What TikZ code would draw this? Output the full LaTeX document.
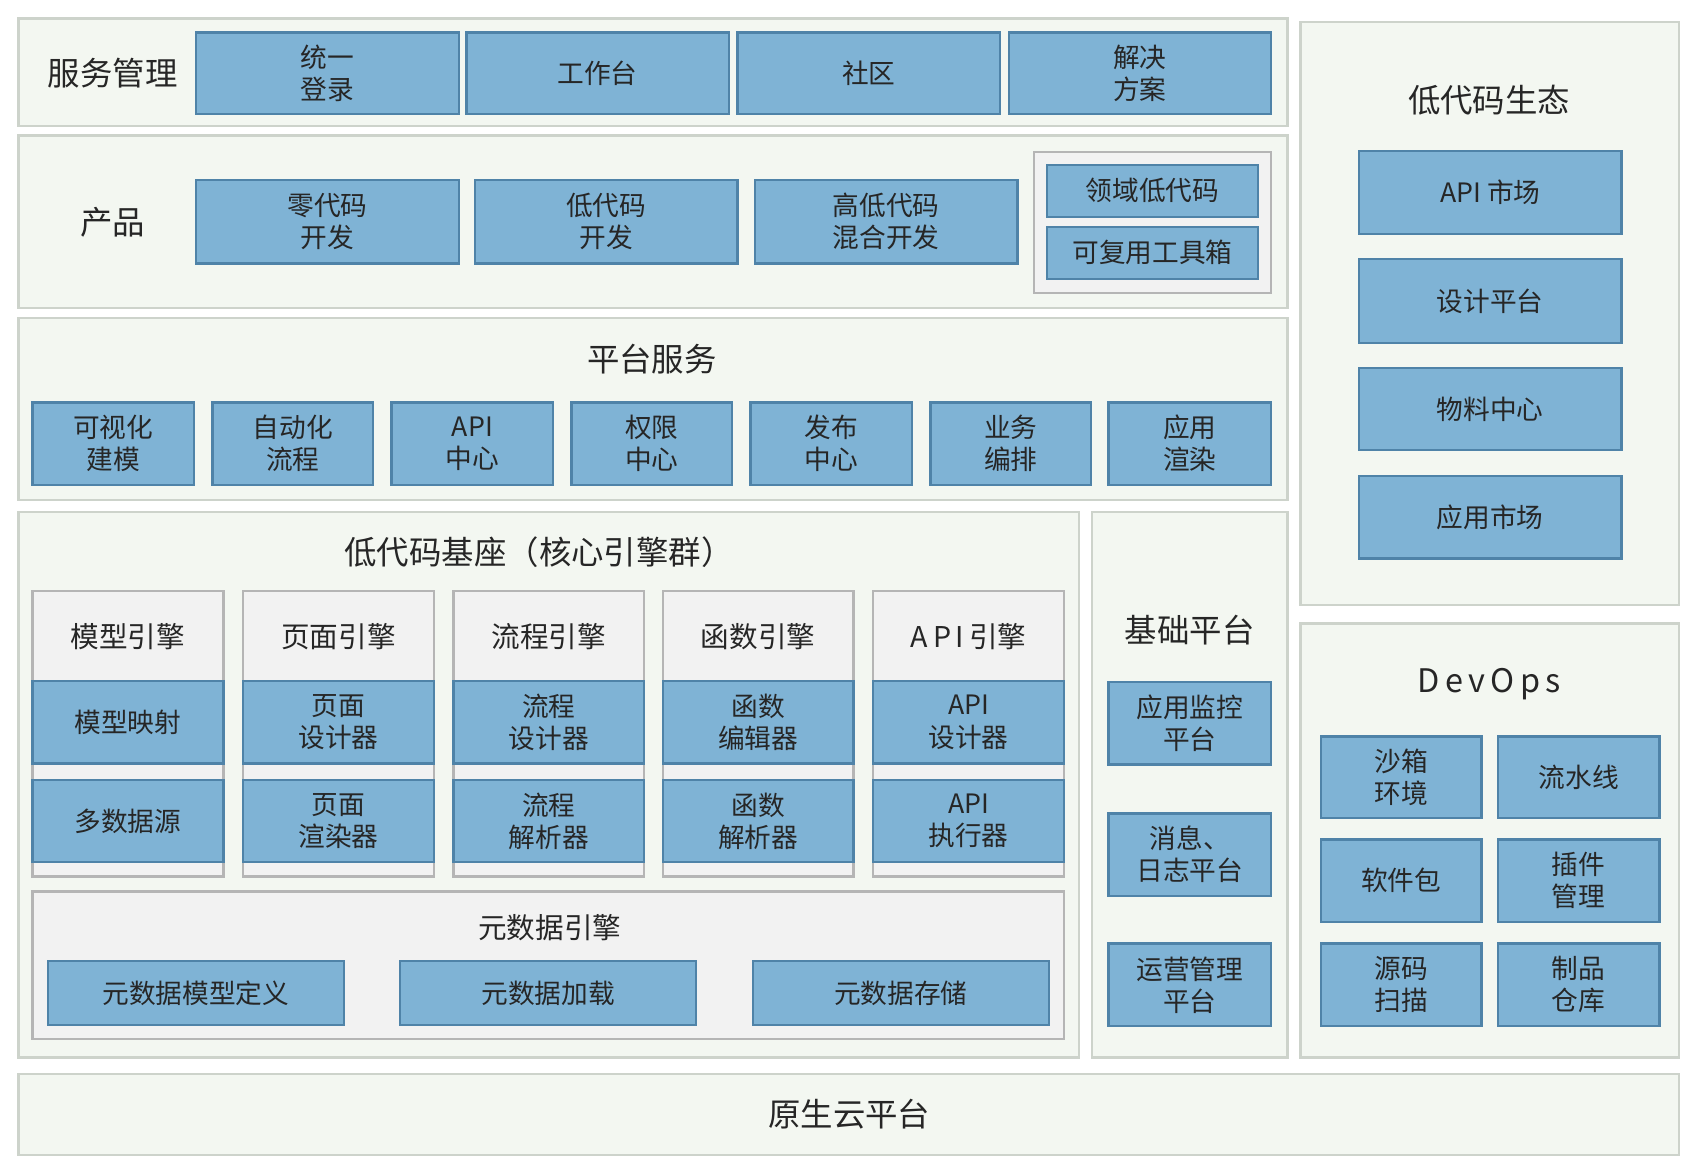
\documentclass[tikz,border=0pt]{standalone}
\usepackage{fontspec}
\setmainfont{Noto Sans CJK SC}
\definecolor{BoxBlue}{HTML}{7FB3D5}
\definecolor{BoxEdge}{HTML}{4F83A8}
\definecolor{PanelFill}{HTML}{F3F7F1}
\definecolor{PanelEdge}{HTML}{CDD3CB}
\definecolor{GroupFill}{HTML}{F2F2F2}
\definecolor{GroupEdge}{HTML}{B5B5B5}
\newcommand{\blk}[7][box]{\node[#1,minimum width={(#5-#3)*0.01cm},minimum height={(#6-#4)*0.01cm}] (#2) at ({(#3+#5)/2},{(#4+#6)/2}) {#7};}
\begin{document}
\begin{tikzpicture}[x=0.01cm,y=-0.01cm,
    box/.style={draw=BoxEdge,fill=BoxBlue,line width=0.6pt,inner sep=0pt,outer sep=0pt,align=center,font=\fontsize{7}{8.4}\selectfont,text=black!85},
    panel/.style={draw=PanelEdge,fill=PanelFill,line width=0.6pt,inner sep=0pt,outer sep=0pt},
    group/.style={draw=GroupEdge,fill=GroupFill,line width=0.6pt,inner sep=0pt,outer sep=0pt},
    title/.style={font=\fontsize{8.5}{10}\selectfont,text=black!85,inner sep=0pt},
    sub/.style={font=\fontsize{7.5}{9}\selectfont,text=black!85,inner sep=0pt}]
\useasboundingbox (0,0) rectangle (1560,1077);

% service management
\blk[panel]{svc}{17}{17}{1187}{116}{}
\node[title] (svcT) at (104,67) {服务管理};
\blk{login}{181}{30}{423}{105}{统一\\登录}
\blk{desk}{430}{30}{672}{105}{工作台}
\blk{comm}{680}{30}{922}{105}{社区}
\blk{sol}{930}{30}{1172}{105}{解决\\方案}

% products
\blk[panel]{prod}{17}{125}{1187}{284}{}
\node[title] (prodT) at (104,205) {产品};
\blk{zero}{181}{166}{423}{243}{零代码\\开发}
\blk{low}{438}{166}{680}{243}{低代码\\开发}
\blk{mix}{696}{166}{938}{243}{高低代码\\混合开发}
\blk[group]{dom}{953}{140}{1172}{270}{}
\blk{domain}{965}{152}{1160}{200}{领域低代码}
\blk{tools}{965}{209}{1160}{257}{可复用工具箱}

% platform services
\blk[panel]{plat}{17}{293}{1187}{461}{}
\node[title] (platT) at (601,331) {平台服务};
\foreach \xa/\xb/\txt [count=\i] in {30/179/可视化\\建模,196/344/自动化\\流程,361/510/API\\中心,527/675/权限\\中心,692/841/发布\\中心,858/1006/业务\\编排,1022/1172/应用\\渲染}
  {\blk{ps\i}{\xa}{371}{\xb}{447}{\txt}}

% low-code core
\blk[panel]{core}{17}{472}{995}{975}{}
\node[title] (coreT) at (497,509) {低代码基座（核心引擎群）};
\foreach \xa/\xb/\head/\ta/\tb [count=\i] in {30/206/模型引擎/模型映射/多数据源,224/400/页面引擎/页面\\设计器/页面\\渲染器,418/594/流程引擎/流程\\设计器/流程\\解析器,611/787/函数引擎/函数\\编辑器/函数\\解析器,805/981/A\,P\,I\,引擎/API\\设计器/API\\执行器}
  {\blk[group]{eng\i}{\xa}{545}{\xb}{808}{}
   \node[sub] (engT\i) at ({(\xa+\xb)/2},587) {\head};
   \blk{engA\i}{\xa+14}{628}{\xb-14}{704}{\ta}
   \blk{engB\i}{\xa+14}{719}{\xb-14}{795}{\tb}}
\blk[group]{meta}{30}{822}{981}{958}{}
\node[sub] (metaT) at (507,855) {元数据引擎};
\blk{metaA}{44}{886}{317}{945}{元数据模型定义}
\blk{metaB}{369}{886}{642}{945}{元数据加载}
\blk{metaC}{694}{886}{967}{945}{元数据存储}

% base platform
\blk[panel]{base}{1007}{472}{1187}{975}{}
\node[title] (baseT) at (1097,581) {基础平台};
\blk{mon}{1022}{629}{1172}{705}{应用监控\\平台}
\blk{msg}{1022}{750}{1172}{826}{消息、\\日志平台}
\blk{ops}{1022}{870}{1172}{946}{运营管理\\平台}

% ecosystem
\blk[panel]{eco}{1199}{20}{1548}{558}{}
\node[title] (ecoT) at (1373,92) {低代码生态};
\blk{apim}{1253}{139}{1495}{216}{API 市场}
\blk{design}{1253}{239}{1495}{316}{设计平台}
\blk{mat}{1253}{339}{1495}{415}{物料中心}
\blk{appm}{1253}{439}{1495}{515}{应用市场}

% devops
\blk[panel]{dev}{1199}{575}{1548}{975}{}
\node[title] (devT) at (1373,631) {D\,e\,v\,O\,p\,s};
\blk{sand}{1218}{679}{1366}{754}{沙箱\\环境}
\blk{pipe}{1381}{679}{1530}{754}{流水线}
\blk{pkg}{1218}{774}{1366}{850}{软件包}
\blk{plug}{1381}{774}{1530}{850}{插件\\管理}
\blk{scan}{1218}{870}{1366}{946}{源码\\扫描}
\blk{repo}{1381}{870}{1530}{946}{制品\\仓库}

% cloud native
\blk[panel]{cloud}{17}{990}{1548}{1065}{}
\node[title] (cloudT) at (783,1027) {原生云平台};
\end{tikzpicture}
\end{document}
